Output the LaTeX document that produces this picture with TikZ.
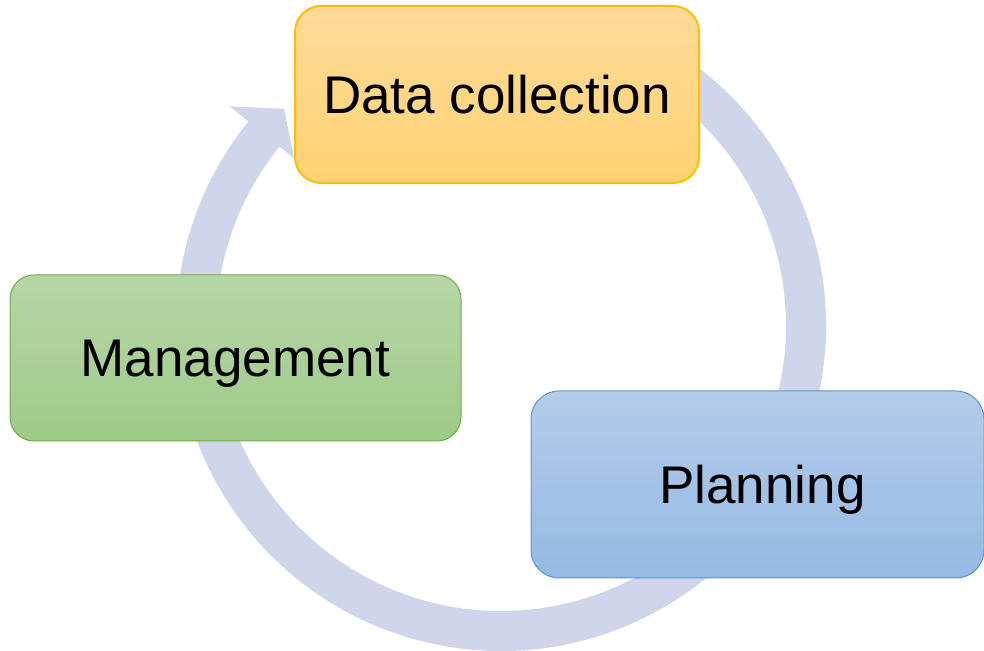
\documentclass[tikz,border=0pt]{standalone}
\usepackage{fontspec}
\setmainfont{Liberation Sans}
\usetikzlibrary{calc}
\definecolor{ringfill}{RGB}{207,213,234}
\definecolor{dctop}{RGB}{254,218,152}
\definecolor{dcbot}{RGB}{255,211,115}
\definecolor{dcline}{RGB}{255,190,0}
\definecolor{mgtop}{RGB}{182,214,168}
\definecolor{mgbot}{RGB}{158,202,135}
\definecolor{mgline}{RGB}{112,173,71}
\definecolor{pltop}{RGB}{180,204,233}
\definecolor{plbot}{RGB}{149,185,227}
\definecolor{plline}{RGB}{91,150,210}
\begin{document}
\begin{tikzpicture}[x=1pt,y=1pt,
  stagebox/.style={rectangle, rounded corners=26pt, inner sep=0pt, outer sep=0pt,
    text height=38pt, text depth=0pt,
    font=\fontsize{53}{60}\selectfont, text=black},
]
\useasboundingbox (0,0) rectangle (984,650);

% circular cycle arrow behind the stages
\coordinate (c) at (501,324);
\fill[ringfill]
  ($(c)+(75:325pt)$) arc[start angle=75, end angle=-219, radius=325pt]
  -- ($(c)+(-219:349pt)$)
  -- ($(c)+(-225:307pt)$)
  -- ($(c)+(-219:266pt)$)
  -- ($(c)+(-219:285pt)$)
  arc[start angle=-219, end angle=75, radius=285pt]
  -- cycle;

% stages
\node[stagebox, top color=dctop, bottom color=dcbot, draw=dcline, line width=2pt,
  minimum width=404pt, minimum height=177pt] (dc) at (497,555.5) {Data collection};
\node[stagebox, top color=mgtop, bottom color=mgbot, draw=mgline, line width=1pt,
  rounded corners=24pt, minimum width=451pt, minimum height=166pt] (mg) at (235.5,292) {Management};
\node[stagebox, top color=pltop, bottom color=plbot, draw=plline, line width=1pt,
  rounded corners=28pt, minimum width=453pt, minimum height=187pt] (pl) at (757.5,165.5) {\hspace*{10pt}Planning};
\end{tikzpicture}
\end{document}
